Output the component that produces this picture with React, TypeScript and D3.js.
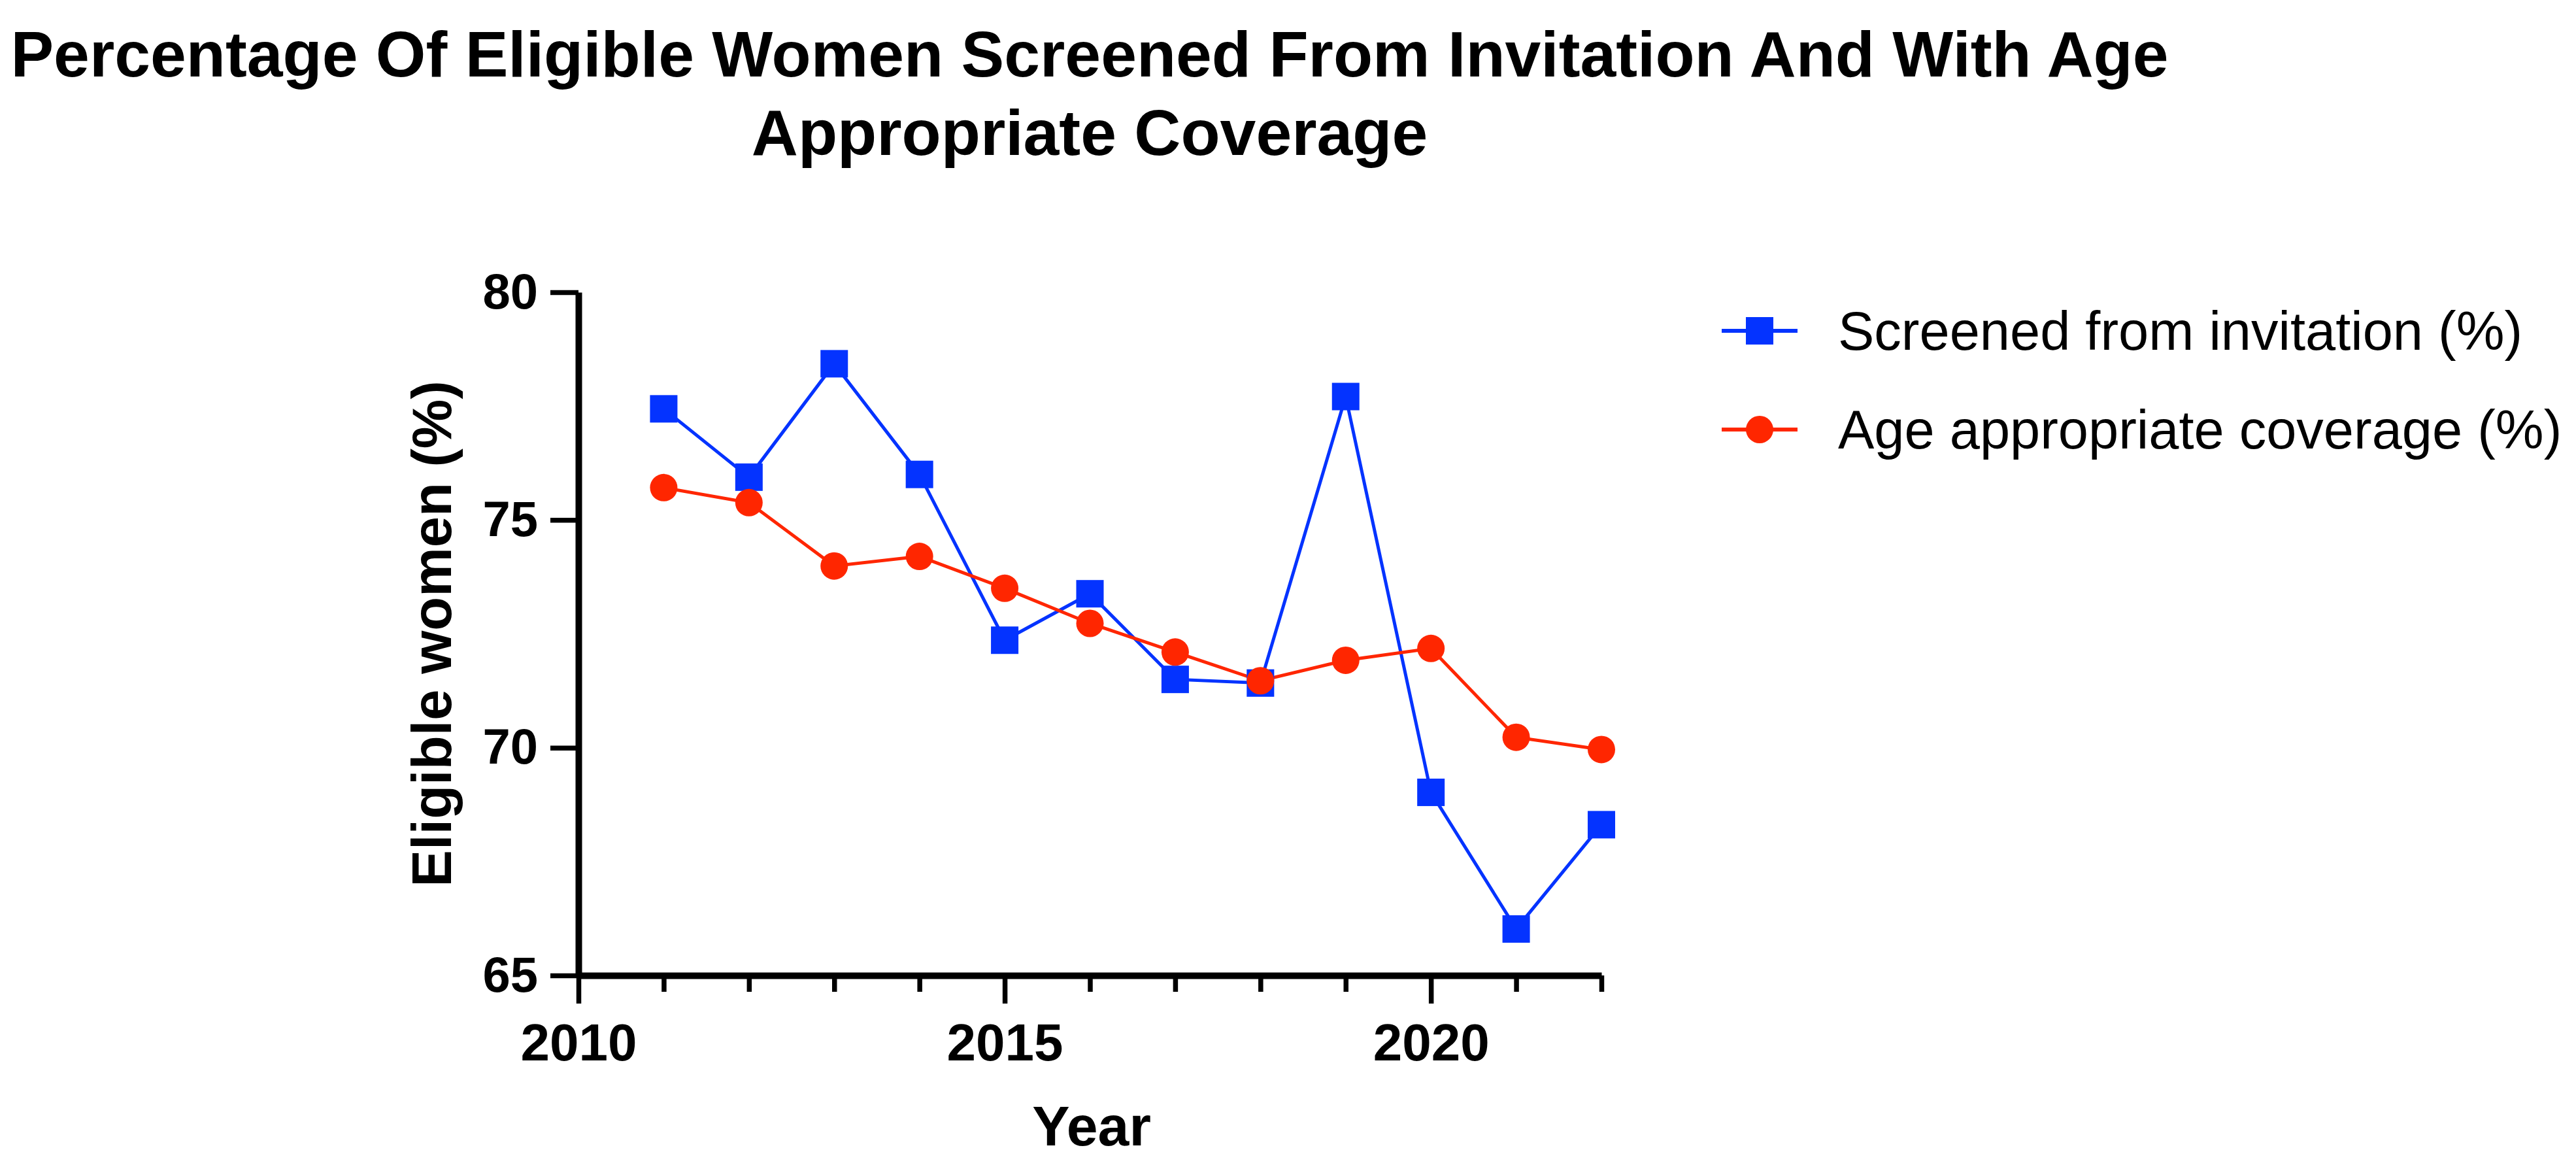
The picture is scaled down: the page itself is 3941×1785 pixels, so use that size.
import { useEffect, useRef } from "react";
import * as d3 from "d3";

const YEARS = [2011, 2012, 2013, 2014, 2015, 2016, 2017, 2018, 2019, 2020, 2021, 2022];
const SCREENED = [77.44, 75.94, 78.43, 76.0, 72.36, 73.38, 71.5, 71.42, 77.71, 69.02, 66.02, 68.31];
const COVERAGE = [75.71, 75.38, 73.99, 74.2, 73.5, 72.73, 72.1, 71.47, 71.92, 72.18, 70.23, 69.96];

const Y_TICKS = [65, 70, 75, 80];
const X_MAJOR = [2010, 2015, 2020];
const X_MINOR = [2011, 2012, 2013, 2014, 2016, 2017, 2018, 2019, 2021, 2022];

const TITLE_LINES = [
  "Percentage Of Eligible Women Screened From Invitation And With Age",
  "Appropriate Coverage",
];
const SERIES_NAMES = ["Screened from invitation (%)", "Age appropriate coverage (%)"];

const W = 3941;
const H = 1785;
const PLOT = { left: 885, right: 2450, top: 447, bottom: 1492 };
const BLUE = "#0433FF";
const RED = "#FF2600";
const FONT = "'Liberation Sans', Arial, Helvetica, sans-serif";

function App() {
  const svgRef = useRef<SVGSVGElement>(null);

  useEffect(() => {
    const svg = svgRef.current;
    if (!svg) return;
    const root = d3.select(svg);
    root.selectAll("*").remove();

    const x = d3.scaleLinear().domain([2010, 2022]).range([PLOT.left, PLOT.right]);
    const y = d3.scaleLinear().domain([65, 80]).range([PLOT.bottom, PLOT.top]);

    // Title
    root
      .append("text")
      .attr("text-anchor", "middle")
      .attr("font-family", FONT)
      .attr("font-weight", "bold")
      .attr("font-size", 98.5)
      .attr("fill", "#000")
      .selectAll("tspan")
      .data(TITLE_LINES)
      .join("tspan")
      .attr("x", 1667)
      .attr("y", (_, i) => 117 + i * 120)
      .text((d) => d);

    // Axes
    const styleAxis = (g: d3.Selection<SVGGElement, unknown, null, undefined>) => {
      g.select(".domain").attr("stroke", "#000").attr("stroke-width", 10);
      g.selectAll(".tick line").attr("stroke", "#000").attr("stroke-width", 7.5);
      g.selectAll(".tick text")
        .attr("fill", "#000")
        .attr("font-family", FONT)
        .attr("font-weight", "bold");
    };

    root
      .append("g")
      .attr("transform", `translate(0,${PLOT.bottom})`)
      .call(d3.axisBottom(x).tickValues(X_MINOR).tickSize(25).tickSizeOuter(0).tickFormat(() => ""))
      .call(styleAxis)
      .call((g) => g.select(".domain").remove());

    root
      .append("g")
      .attr("transform", `translate(0,${PLOT.bottom})`)
      .call(
        d3
          .axisBottom(x)
          .tickValues(X_MAJOR)
          .tickSize(43)
          .tickSizeOuter(0)
          .tickPadding(30)
          .tickFormat(d3.format("d"))
      )
      .call(styleAxis)
      .call((g) => g.selectAll(".tick text").attr("font-size", 80));

    root
      .append("g")
      .attr("transform", `translate(${PLOT.left},0)`)
      .call(d3.axisLeft(y).tickValues(Y_TICKS).tickSize(43).tickSizeOuter(0).tickPadding(19))
      .call(styleAxis)
      .call((g) => g.selectAll(".tick text").attr("font-size", 76));

    // Axis labels
    root
      .append("text")
      .attr("x", 1670)
      .attr("y", 1752)
      .attr("text-anchor", "middle")
      .attr("font-family", FONT)
      .attr("font-weight", "bold")
      .attr("font-size", 86)
      .text("Year");

    root
      .append("text")
      .attr("transform", `translate(690,${(PLOT.top + PLOT.bottom) / 2}) rotate(-90)`)
      .attr("text-anchor", "middle")
      .attr("font-family", FONT)
      .attr("font-weight", "bold")
      .attr("font-size", 85)
      .text("Eligible women (%)");

    // Lines
    const line = d3
      .line<number>()
      .x((_, i) => x(YEARS[i]))
      .y((d) => y(d));

    root
      .append("path")
      .datum(SCREENED)
      .attr("fill", "none")
      .attr("stroke", BLUE)
      .attr("stroke-width", 5)
      .attr("d", line);

    root
      .append("path")
      .datum(COVERAGE)
      .attr("fill", "none")
      .attr("stroke", RED)
      .attr("stroke-width", 5)
      .attr("d", line);

    // Markers
    const SQ = 42;
    root
      .append("g")
      .selectAll("rect")
      .data(SCREENED)
      .join("rect")
      .attr("x", (_, i) => x(YEARS[i]) - SQ / 2)
      .attr("y", (d) => y(d) - SQ / 2)
      .attr("width", SQ)
      .attr("height", SQ)
      .attr("fill", BLUE);

    root
      .append("g")
      .selectAll("circle")
      .data(COVERAGE)
      .join("circle")
      .attr("cx", (_, i) => x(YEARS[i]))
      .attr("cy", (d) => y(d))
      .attr("r", 21)
      .attr("fill", RED);

    // Legend
    const legend = root.append("g").attr("transform", "translate(2692,0)");
    const rows = [506, 657];
    SERIES_NAMES.forEach((name, i) => {
      const g = legend.append("g").attr("transform", `translate(0,${rows[i]})`);
      const color = i === 0 ? BLUE : RED;
      g.append("line")
        .attr("x1", -58)
        .attr("x2", 58)
        .attr("stroke", color)
        .attr("stroke-width", 6);
      if (i === 0) {
        g.append("rect")
          .attr("x", -SQ / 2)
          .attr("y", -SQ / 2)
          .attr("width", SQ)
          .attr("height", SQ)
          .attr("fill", color);
      } else {
        g.append("circle").attr("r", 21).attr("fill", color);
      }
      g.append("text")
        .attr("x", 120)
        .attr("dy", "0.35em")
        .attr("font-family", FONT)
        .attr("font-size", 83)
        .attr("fill", "#000")
        .text(name);
    });
  }, []);

  return (
    <svg
      ref={svgRef}
      width={W}
      height={H}
      viewBox={`0 0 ${W} ${H}`}
      style={{ position: "absolute", left: 0, top: 0, background: "#fff" }}
    />
  );
}

export default App;
